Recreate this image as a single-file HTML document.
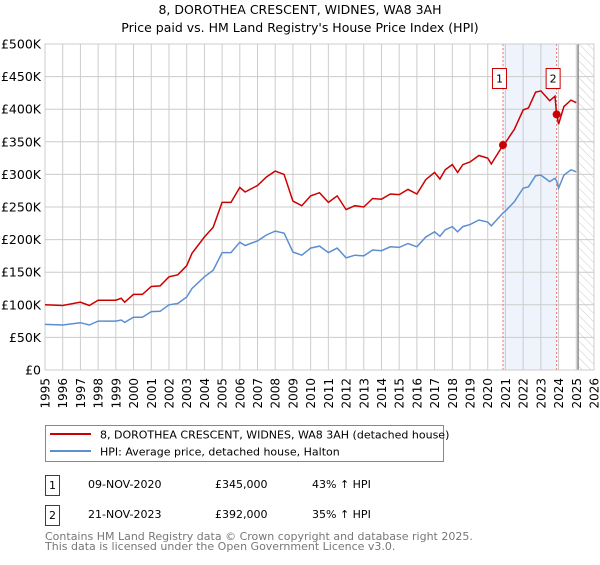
<!DOCTYPE html>
<html><head><meta charset="utf-8">
<style>
body{margin:0;background:#fff;font-family:"Liberation Sans","DejaVu Sans",sans-serif;}
svg text{font-family:"DejaVu Sans","Liberation Sans",sans-serif;}
</style></head>
<body>
<svg id="chart" width="600" height="560" xmlns="http://www.w3.org/2000/svg">
<defs>
<pattern id="hatch" patternUnits="userSpaceOnUse" width="6" height="6" patternTransform="rotate(-45)">
<line x1="0" y1="0" x2="0" y2="6" stroke="#ccc" stroke-width="1"/>
</pattern>
</defs>
<text x="300" y="14" text-anchor="middle" font-size="12.5" fill="#000">8, DOROTHEA CRESCENT, WIDNES, WA8 3AH</text>
<text x="300" y="32" text-anchor="middle" font-size="12.5" fill="#000">Price paid vs. HM Land Registry's House Price Index (HPI)</text>
<g id="grid"></g>
<g id="marks"></g>
<g id="legend">
<rect x="45.5" y="425.5" width="398" height="36" fill="#fff" stroke="#888"/>
<line x1="50" y1="434" x2="91" y2="434" stroke="#cc0000" stroke-width="2"/>
<text x="100" y="438.5" font-size="11">8, DOROTHEA CRESCENT, WIDNES, WA8 3AH (detached house)</text>
<line x1="50" y1="451" x2="91" y2="451" stroke="#5b8fd0" stroke-width="2"/>
<text x="100" y="455.5" font-size="11">HPI: Average price, detached house, Halton</text>
</g>
<g font-size="11">
<rect x="45.5" y="475.5" width="14" height="20" fill="#fff" stroke="#cc0000"/>
<text x="52.5" y="489" text-anchor="middle">1</text>
<text x="88" y="488">09-NOV-2020</text>
<text x="215" y="488">£345,000</text>
<text x="312" y="488">43% ↑ HPI</text>
</g>
<g font-size="11">
<rect x="45.5" y="505.5" width="14" height="20" fill="#fff" stroke="#cc0000"/>
<text x="52.5" y="519" text-anchor="middle">2</text>
<text x="88" y="518">21-NOV-2023</text>
<text x="215" y="518">£392,000</text>
<text x="312" y="518">35% ↑ HPI</text>
</g>
<text x="45" y="540" font-size="11" fill="#777">Contains HM Land Registry data © Crown copyright and database right 2025.</text>
<text x="45" y="550" font-size="11" fill="#777">This data is licensed under the Open Government Licence v3.0.</text>
</svg>
<script>
const years=[1995,1996,1997,1997.5,1998,1999,1999.3,1999.5,2000,2000.5,2001,2001.5,2002,2002.5,2003,2003.3,2004,2004.5,2005,2005.5,2006,2006.3,2007,2007.5,2008,2008.5,2009,2009.5,2010,2010.5,2011,2011.5,2012,2012.5,2013,2013.5,2014,2014.5,2015,2015.5,2016,2016.5,2017,2017.3,2017.6,2018,2018.3,2018.6,2019,2019.5,2020,2020.2,2020.86,2021,2021.5,2022,2022.3,2022.7,2023,2023.5,2023.8,2023.89,2024,2024.3,2024.7,2025];
const hpiValues=[70,69,72.6,69,75,75,76.7,73,81,81,89.5,90,100,102,112,125,143,153,180,180,196,191,198,207,213,210,181,176,187,190,180,187,172,176,175,184,183,189,188,194,189,204,212,205,215,220,212,220,223,230,227,221,241,244,258,279,281,298,299,289,294,290,279,299,307,304];
const priceValues=[100,99,104,99,107,107,110,104,116,116,128,129,143,146,160,179,204,219,257,257,280,273,283,296,305,300,259,252,267,272,257,267,246,252,250,263,262,270,269,277,270,292,303,293,307,315,303,315,319,329,325,316,345,349,369,399,402,426,428,413,420,392,377,404,414,410];
const saleYears=[2020.86,2023.89];
const salePrices=[345,392];
const saleLabels=["1","2"];
const yTicks=[0,50,100,150,200,250,300,350,400,450,500];
const yTickLabels=["£0","£50K","£100K","£150K","£200K","£250K","£300K","£350K","£400K","£450K","£500K"];
const xTicks=[1995,1996,1997,1998,1999,2000,2001,2002,2003,2004,2005,2006,2007,2008,2009,2010,2011,2012,2013,2014,2015,2016,2017,2018,2019,2020,2021,2022,2023,2024,2025,2026];
const forecastStart=2025.1;

const X0=45,X1=594,Y0=370,Y1=44;
const xS=v=>X0+(v-1995)/(2026-1995)*(X1-X0);
const yS=v=>Y0-v/500*(Y0-Y1);
const NS="http://www.w3.org/2000/svg";
function mk(tag,attrs,parent){const e=document.createElementNS(NS,tag);for(const k in attrs)e.setAttribute(k,attrs[k]);parent.appendChild(e);return e;}
const grid=document.getElementById('grid'),marks=document.getElementById('marks');

const span=mk('rect',{x:xS(saleYears[0]),y:Y1,width:xS(saleYears[1])-xS(saleYears[0]),height:Y0-Y1,fill:'#eef3fc'},grid);


const hat=mk('rect',{x:xS(forecastStart),y:Y1,width:X1-xS(forecastStart),height:Y0-Y1,fill:'url(#hatch)'},grid);



yTicks.forEach((t,i)=>{
  const l=mk('line',{x1:X0,x2:X1,y1:yS(t),y2:yS(t),stroke:'#ccc'},grid);
  
  
  const tx=mk('text',{x:X0-4,y:yS(t)+4.5,'text-anchor':'end','font-size':'12.5',fill:'#000'},grid);
  tx.textContent=yTickLabels[i];
  
  
});
xTicks.forEach(t=>{
  const l=mk('line',{x1:xS(t),x2:xS(t),y1:Y1,y2:Y0,stroke:'#ccc'},grid);
  
  
  const x=xS(t)+4.5,y=378;
  const tx=mk('text',{x:x,y:y,'text-anchor':'end','font-size':'12',fill:'#000',transform:`rotate(-90 ${x} ${y})`},grid);
  tx.textContent=String(t);
  
  
});
const fl=mk('line',{x1:xS(forecastStart),x2:xS(forecastStart),y1:Y1,y2:Y0,stroke:'#888','stroke-width':1.5},grid);


saleYears.forEach((s,i)=>{
  const l=mk('line',{x1:xS(s),x2:xS(s),y1:Y1,y2:Y0,stroke:'#f07070','stroke-dasharray':'2,2'},grid);
  
  
});

const pts=a=>a.map((v,i)=>xS(years[i]).toFixed(1)+','+yS(v).toFixed(1)).join(' ');
const hl=mk('polyline',{points:pts(hpiValues),fill:'none',stroke:'#5b8fd0','stroke-width':1.5},marks);


const pl=mk('polyline',{points:pts(priceValues),fill:'none',stroke:'#cc0000','stroke-width':1.5},marks);



saleYears.forEach((s,i)=>{
  const c=mk('circle',{cx:xS(s),cy:yS(salePrices[i]),r:4,fill:'#cc0000'},marks);
  
  
  const r=mk('rect',{x:xS(s)-10.5,y:68.5,width:14,height:20,fill:'#fff',stroke:'#cc0000'},marks);
  
  
  const t=mk('text',{x:xS(s)-3.5,y:82.5,'text-anchor':'middle','font-size':'11',fill:'#000'},marks);
  t.textContent=saleLabels[i];
  
  
});
const frame=mk('rect',{x:X0,y:Y1,width:X1-X0,height:Y0-Y1,fill:'none',stroke:'#ccc'},grid);


</script>
</body></html>
